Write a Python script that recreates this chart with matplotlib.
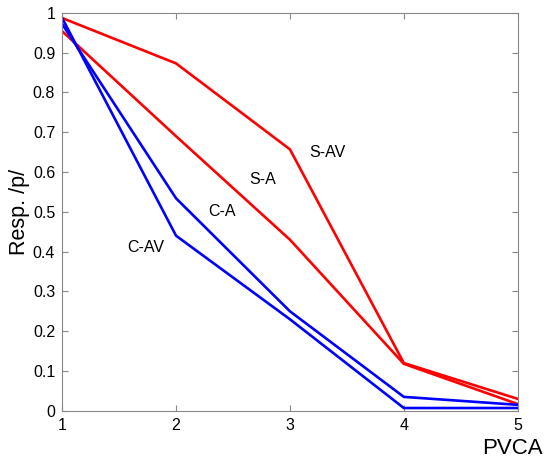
import matplotlib
matplotlib.use('Agg')
import matplotlib.pyplot as plt

plt.rcParams['font.family'] = ['Liberation Sans', 'DejaVu Sans']

x = [1, 2, 3, 4, 5]
s_av = [0.987, 0.873, 0.657, 0.120, 0.030]
s_a = [0.954, 0.690, 0.430, 0.118, 0.017]
c_a = [0.972, 0.534, 0.250, 0.035, 0.015]
c_av = [0.987, 0.440, 0.230, 0.007, 0.007]

labels = ['S-AV', 'S-A', 'C-A', 'C-AV']
label_pos = [(3.17, 0.65), (2.64, 0.58), (2.28, 0.50), (1.57, 0.41)]

yticks = [0, 0.1, 0.2, 0.3, 0.4, 0.5, 0.6, 0.7, 0.8, 0.9, 1]
ytick_labels = ['0', '0.1', '0.2', '0.3', '0.4', '0.5', '0.6', '0.7', '0.8', '0.9', '1']

fig = plt.figure(figsize=(5.45, 4.59), dpi=100)
ax = fig.add_axes([0.114, 0.105, 0.836, 0.867])

ax.plot(x, s_av, color='red', lw=1.9)
ax.plot(x, s_a, color='red', lw=1.9)
ax.plot(x, c_a, color='blue', lw=1.9)
ax.plot(x, c_av, color='blue', lw=1.9)

for txt, (tx, ty) in zip(labels, label_pos):
    ax.text(tx, ty, txt, fontsize=11.5, va='center', ha='left')

ax.set_xlim(1, 5)
ax.set_ylim(0, 1)
ax.set_xticks(x)
ax.set_yticks(yticks)
ax.set_yticklabels(ytick_labels)
ax.tick_params(direction='in', top=True, right=True, labelsize=11.5,
               color='#888888', length=4, pad=5)
for s in ax.spines.values():
    s.set_color('#888888')
    s.set_linewidth(0.8)

ax.set_ylabel('Resp. /p/', fontsize=15.5, labelpad=2)
fig.text(0.995, 0.046, 'PVCA', fontsize=16, ha='right', va='top')

fig.savefig('out.png', dpi=100)
